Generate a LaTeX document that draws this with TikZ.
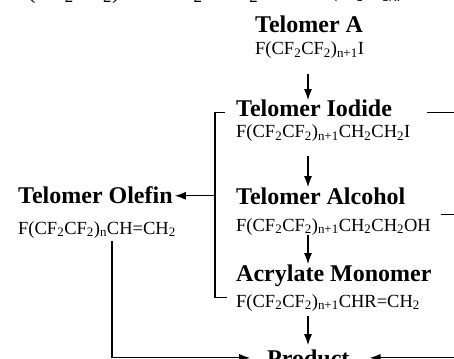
\documentclass[tikz,border=0pt]{standalone}
\usepackage{fontspec}
\setmainfont{Liberation Serif}
\usetikzlibrary{arrows.meta}

\newcommand{\chsub}[1]{\textsubscript{#1}}

\tikzset{
  title/.style={font=\fontsize{24}{26}\selectfont\bfseries, inner sep=0pt, anchor=base west},
  formula/.style={font=\fontsize{18.5}{20}\selectfont, inner sep=0pt, anchor=base west},
  flow/.style={line width=1.3pt, -{Latex[length=11pt,width=8pt]}},
  link/.style={line width=1.3pt},
}

\begin{document}
\begin{tikzpicture}[x=1pt,y=-1pt]
        \useasboundingbox (0,0) rectangle (454,358);
        \clip (0,0) rectangle (454,358);

        % foot of the reaction line above
        \node[formula, font=\fontsize{24}{26}\selectfont] (upa) at (14,-1) {F(CF\chsub{2}CF\chsub{2})I};
        \node[formula, font=\fontsize{24}{26}\selectfont] (upb) at (160,-1) {CH\chsub{2}=CH\chsub{2}};
        \node[formula, font=\fontsize{16}{18}\selectfont] (upc) at (332,-1) {(CF\chsub{2}CF\chsub{2})\chsub{n}};

        \node[title] (telA) at (255,33) {Telomer A};
        \node[formula] (telAf) at (255,55) {F(CF\chsub{2}CF\chsub{2})\chsub{n+1}I};

        \node[title] (iodide) at (236,117) {Telomer Iodide};
        \node[formula] (iodidef) at (236,138) {F(CF\chsub{2}CF\chsub{2})\chsub{n+1}CH\chsub{2}CH\chsub{2}I};

        \node[title] (alcohol) at (236,204) {Telomer Alcohol};
        \node[formula] (alcoholf) at (236,231) {F(CF\chsub{2}CF\chsub{2})\chsub{n+1}CH\chsub{2}CH\chsub{2}OH};

        \node[title] (acryl) at (236,281) {Acrylate Monomer};
        \node[formula] (acrylf) at (236,307) {F(CF\chsub{2}CF\chsub{2})\chsub{n+1}CHR=CH\chsub{2}};

        \node[title] (olefin) at (18,203) {Telomer Olefin};
        \node[formula] (olefinf) at (18,234) {F(CF\chsub{2}CF\chsub{2})\chsub{n}CH=CH\chsub{2}};

        \node[title] (product) at (267,366) {Product};

        \coordinate (stem) at (308,0);
        \coordinate (bar) at (215,0);
        \coordinate (drop) at (112,0);
        \coordinate (rail) at (480,0);

        % main chain
        \draw[flow, shorten <=15pt] (telAf.south -| stem) -- (iodide.north -| stem);
        \draw[flow, shorten <=14pt] (iodidef.south -| stem) -- (alcohol.north -| stem);
        \draw[flow] (alcoholf.south -| stem) -- (acryl.north -| stem);
        \draw[flow, shorten <=5pt, shorten >=4pt] (acrylf.south -| stem) -- (product.north -| stem);

        % side branch to the olefin
        \draw[link] ([xshift=-11pt, yshift=-4pt]iodide.west) -- ([yshift=-4pt]iodide.west -| bar) |- ([xshift=-9pt, yshift=5pt]acrylf.west);
        \draw[flow, shorten >=2pt] (alcohol.west -| bar) -- (olefin.east |- alcohol.west);
        \draw[flow, shorten >=17pt] ([yshift=-3pt]olefinf.south -| drop) |- (product.west);

        % returns from the right
        \draw[link] ([xshift=35pt, yshift=-4pt]iodide.east) -- ([yshift=-4pt]iodide.east -| rail);
        \draw[link] ([xshift=10pt, yshift=12pt]alcoholf.east) -- ++(40,0);
        \draw[flow, shorten >=20pt] (product.east -| rail) -- (product.east);
\end{tikzpicture}
\end{document}
